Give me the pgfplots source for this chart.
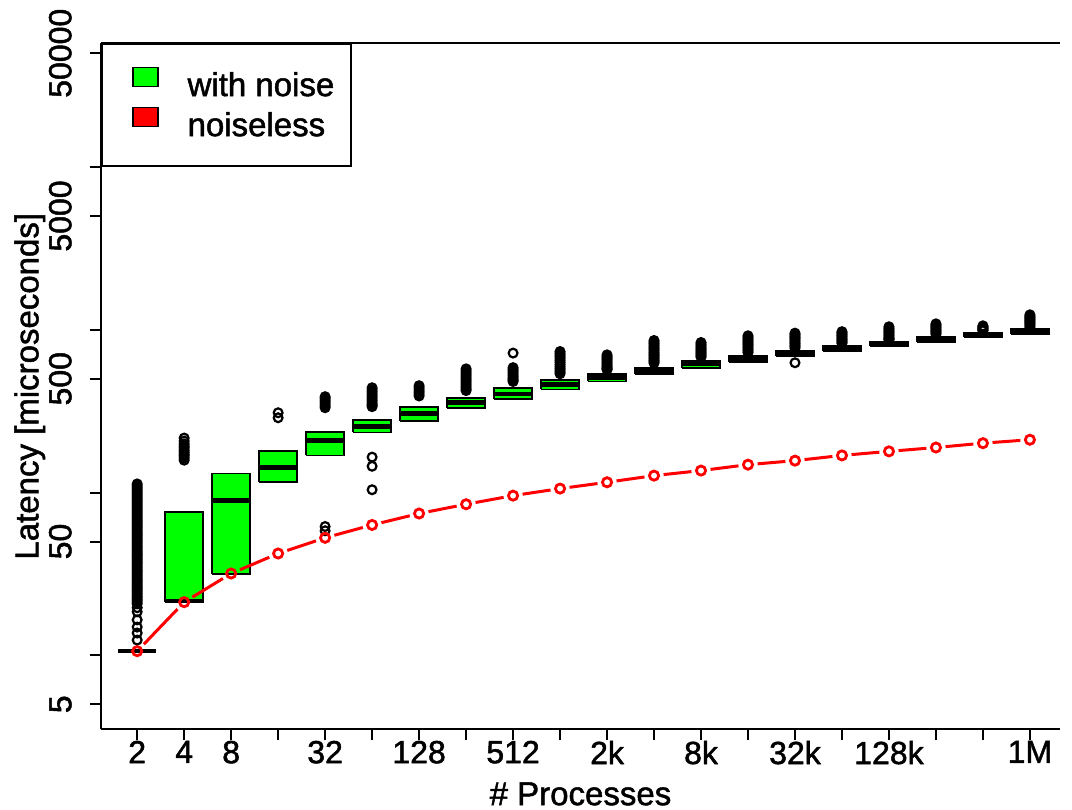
\documentclass[border=0pt]{standalone}
\usepackage{fontspec}
\setmainfont{Liberation Sans}[FakeBold=1.5]
\usepackage{pgfplots}
\usepackage{pgfplotstable}
\pgfplotsset{compat=1.18}
\definecolor{rgreen}{RGB}{0,255,0}
\definecolor{rred}{RGB}{255,0,0}

\pgfplotstableread{
x y
0 10.6
1 21.2
2 31.8
3 42.2
4 52.7
5 63.2
6 74.3
7 84.7
8 95.7
9 105.7
10 115.6
11 127
12 136.4
13 148.3
14 157
15 169
16 179
17 189
18 201
19 211
}\noiseless

\pgfplotstableread{
x y
0 112.9
0 109.8
0 106.7
0 103.7
0 100.8
0 98.0
0 95.3
0 92.6
0 90.0
0 87.5
0 85.1
0 82.7
0 80.4
0 78.2
0 76.0
0 73.9
0 71.8
0 69.8
0 67.8
0 65.9
0 64.1
0 62.3
0 60.6
0 58.9
0 57.2
0 55.6
0 54.1
0 52.6
0 51.1
0 49.7
0 48.3
0 46.9
0 45.6
0 44.3
0 43.1
0 41.9
0 40.8
0 39.6
0 38.5
0 37.4
0 36.4
0 35.4
0 34.4
0 33.4
0 32.5
0 31.6
0 30.7
0 29.8
0 29.0
0 28.2
0 27.4
0 26.6
0 25.9
0 25.2
0 24.5
0 23.8
0 23.1
0 22.5
0 21.9
0 21.3
0 20.7
0 19.6
0 18.5
0 16.5
0 14.9
0 13.7
0 12.4
1 216
1 207
1 199
1 193
1 188
1 182
1 177
1 172
1 168
1 163
1 158
3 309
3 288
4 388
4 379
4 370
4 360
4 350
4 341
4 332
4 61.8
4 58.2
5 440
5 427
5 415
5 403
5 392
5 381
5 370
5 360
5 350
5 343
5 337
5 165
5 145
5 104
6 453
6 440
6 427
6 415
6 403
6 392
7 575
7 559
7 543
7 528
7 513
7 499
7 485
7 471
7 458
7 445
7 433
7 423
8 719
8 585
8 570
8 555
8 540
8 525
8 512
8 500
8 490
8 481
9 735
9 717
9 700
9 682
9 665
9 647
9 630
9 612
9 595
9 580
9 565
9 551
9 537
10 701
10 685
10 670
10 655
10 640
10 625
10 610
10 597
10 585
10 576
10 568
11 859
11 839
11 820
11 800
11 780
11 762
11 745
11 727
11 710
11 695
11 680
11 665
11 650
11 637
11 624
12 835
12 817
12 800
12 782
12 765
12 750
12 735
12 720
12 705
12 692
12 679
13 918
13 896
13 875
13 855
13 835
13 817
13 800
13 780
13 760
13 741
13 723
14 953
14 934
14 915
14 897
14 880
14 860
14 840
14 822
14 805
14 788
14 771
14 627
15 973
15 956
15 940
15 922
15 905
15 887
15 870
15 855
15 840
15 826
16 1043
16 1021
16 1000
16 980
16 960
16 940
16 920
16 902
16 885
16 876
16 867
17 1087
17 1068
17 1050
17 1030
17 1010
17 992
17 975
17 957
17 939
18 1057
18 1043
18 1030
18 1017
18 1005
18 995
18 986
19 1235
19 1212
19 1190
19 1170
19 1150
19 1130
19 1110
19 1090
19 1070
19 1046
19 1023
}\outliers

% box: left x, right x, lower quartile, median, upper quartile
\newcommand\bx[5]{%
  \addplot[forget plot, draw=black, fill=rgreen, line width=0.9pt, line join=miter]
    coordinates {(#1,#3) (#2,#3) (#2,#5) (#1,#5) (#1,#3)};
  \addplot[forget plot, black, line width=2.3pt]
    coordinates {(#1,#4) (#2,#4)};
}

\begin{document}
\begin{tikzpicture}
\begin{axis}[
  name=ax,
  scale only axis,
  width=479.5pt, height=343.25pt,
  xmin=-0.77, xmax=19.64,
  ymode=log, ymin=3.5, ymax=57800,
  axis x line*=bottom, axis y line*=left,
  axis line style={line width=1pt},
  tick style={line width=1pt, black},
  tick align=outside,
  major tick length=5.5pt,
  yminorticks=false, xminorticks=false,
  xtick={0,...,19},
  xticklabels={2,4,8,,32,,128,,512,,2k,,8k,,32k,,128k,,,1M},
  ytick={5,10,50,100,500,1000,5000,10000,50000},
  yticklabels={5,,50,,500,,5000,,50000},
  /pgf/number format/assume math mode=true,
  ticklabel style={font=\fontsize{16}{19}\selectfont, inner sep=0pt},
  xticklabel style={anchor=north},
  yticklabel style={rotate=90, anchor=south},
  yticklabel shift=9pt,
  xlabel={\# Processes},
  ylabel={Latency [microseconds]},
  label style={font=\fontsize{16.5}{20}\selectfont, inner sep=0pt},
  xlabel style={at={(axis description cs:0.5,-0.0765)}, anchor=north},
  ylabel style={at={(axis description cs:-0.0907,0.5)}, anchor=north},
  clip=false,
  legend style={at={(0,1)}, anchor=north west, draw=black, line width=1pt, fill=white,
    inner xsep=6.5pt, inner ysep=11.5pt, row sep=2pt,
    font=\fontsize{16.5}{20}\selectfont,
    /tikz/every odd column/.append style={column sep=12.5pt}},
  legend cell align=left,
]
\addlegendimage{legend image code/.code={\path (-8.5pt,0pt); \draw[black,fill=rgreen,line width=0.6pt] (0pt,-0.5pt) rectangle (12.5pt,9pt);}}
\addlegendentry{with noise}
\addlegendimage{legend image code/.code={\path (-8.5pt,0pt); \draw[black,fill=rred,line width=0.6pt] (0pt,-0.5pt) rectangle (12.5pt,9pt);}}
\addlegendentry{noiseless}

\bx{-0.4}{0.4}{10.6}{10.6}{10.6}
\bx{0.6}{1.4}{21.2}{21.5}{75.7}
\bx{1.6}{2.4}{31.7}{89.3}{130.7}
\bx{2.6}{3.4}{116.2}{142.8}{180.8}
\bx{3.6}{4.4}{169}{209}{235.6}
\bx{4.6}{5.4}{234}{254.7}{277.4}
\bx{5.6}{6.4}{276}{305}{334.7}
\bx{6.6}{7.4}{330}{356}{382}
\bx{7.6}{8.4}{377}{404}{437.6}
\bx{8.6}{9.4}{430}{459}{488.5}
\bx{9.6}{10.4}{481}{507}{537}
\bx{10.6}{11.4}{537}{560}{585}
\bx{11.6}{12.4}{585}{618}{644}
\bx{12.6}{13.4}{635}{664}{695}
\bx{13.6}{14.4}{691}{722}{743}
\bx{14.6}{15.4}{743}{769}{797}
\bx{15.6}{16.4}{793}{820}{847}
\bx{16.6}{17.4}{838}{868}{900}
\bx{17.6}{18.4}{900}{926}{953}
\bx{18.6}{19.4}{944}{975}{1009}

\addplot[forget plot, only marks, mark=o, mark size=2.2pt, mark options={draw=black, line width=1.1pt}]
  table[x=x, y=y] {\outliers};

% noiseless line with gaps (type="b")
\pgfplotsinvokeforeach{0,...,18}{
  \addplot[forget plot, rred, line width=1.5pt, shorten <=4.8pt, shorten >=4.8pt,
    x filter/.expression={(\coordindex<#1 || \coordindex>#1+1) ? nan : x}]
    table[x=x, y=y] {\noiseless};
}
\addplot[forget plot, only marks, mark=o, mark size=2.3pt, mark options={draw=rred, line width=1.4pt}]
  table[x=x, y=y] {\noiseless};

\draw[line width=1pt] (rel axis cs:0,1) -- (rel axis cs:1,1);
\end{axis}
\pgfresetboundingbox
\path[use as bounding box] ([shift={(-50.5pt,-40.25pt)}]ax.south west) rectangle ([shift={(6pt,21.5pt)}]ax.north east);
\end{tikzpicture}
\end{document}
